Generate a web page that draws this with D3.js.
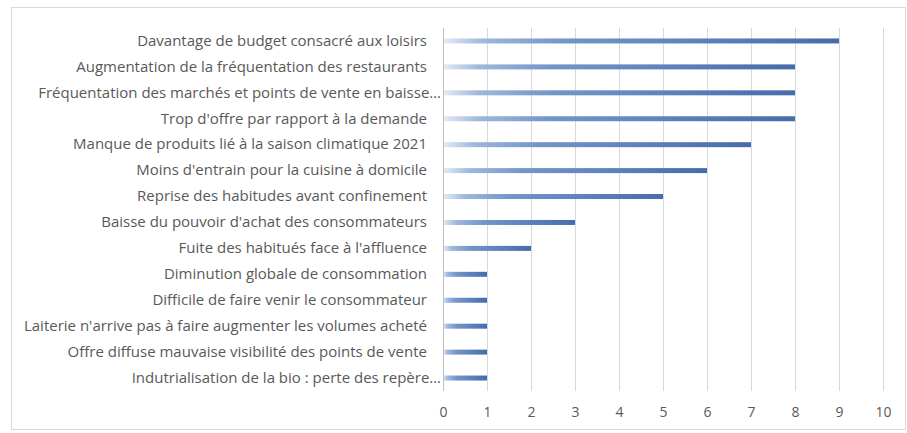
<!DOCTYPE html>
<html>
<head>
<meta charset="utf-8">
<script src="https://cdn.jsdelivr.net/npm/d3@7"></script>
<style>
  html, body { margin: 0; padding: 0; background: #ffffff; }
  svg { display: block; }
</style>
</head>
<body>
<svg id="chart" width="907" height="433"></svg>
<script>
// Reasons given, top to bottom, with the number of mentions for each
const categories = [
  "Davantage de budget consacré aux loisirs",
  "Augmentation de la fréquentation des restaurants",
  "Fréquentation des marchés et points de vente en baisse…",
  "Trop d'offre par rapport à la demande",
  "Manque de produits lié à la saison climatique 2021",
  "Moins d'entrain pour la cuisine à domicile",
  "Reprise des habitudes avant confinement",
  "Baisse du pouvoir d'achat des consommateurs",
  "Fuite des habitués face à l'affluence",
  "Diminution globale de consommation",
  "Difficile de faire venir le consommateur",
  "Laiterie n'arrive pas à faire augmenter les volumes acheté",
  "Offre diffuse mauvaise visibilité des points de vente",
  "Indutrialisation de la bio : perte des repère…"
];
const counts = [9, 8, 8, 8, 7, 6, 5, 3, 2, 1, 1, 1, 1, 1];
const tickValues = [0, 1, 2, 3, 4, 5, 6, 7, 8, 9, 10];

const svg = d3.select("#chart");
const font = "'Open Sans', 'DejaVu Sans', sans-serif";
const textColor = "#595959";

// Chart frame
svg.append("rect")
  .attr("x", 11.5).attr("y", 7.5)
  .attr("width", 894).attr("height", 422)
  .attr("fill", "#ffffff")
  .attr("stroke", "#d9d9d9");

const plot = { left: 443, right: 883, top: 28, bottom: 391 };

const x = d3.scaleLinear().domain([0, 10]).range([plot.left, plot.right]);
const y = d3.scaleBand().domain(categories).range([plot.top, plot.bottom]).paddingInner(0.8).paddingOuter(0.4);

// Bar fill: light at the start, deep blue at the end
const defs = svg.append("defs");
const grad = defs.append("linearGradient").attr("id", "barGrad")
  .attr("x1", "0%").attr("x2", "100%").attr("y1", "0%").attr("y2", "0%");
grad.append("stop").attr("offset", "0%").attr("stop-color", "#e4ecf6");
grad.append("stop").attr("offset", "10%").attr("stop-color", "#9fb8dc");
grad.append("stop").attr("offset", "30%").attr("stop-color", "#7396c9");
grad.append("stop").attr("offset", "100%").attr("stop-color", "#466cab");

// Vertical gridlines
svg.append("g")
  .selectAll("line")
  .data(tickValues.slice(1))
  .join("line")
  .attr("x1", d => x(d) + 0.5).attr("x2", d => x(d) + 0.5)
  .attr("y1", plot.top).attr("y2", plot.bottom)
  .attr("stroke", "#d9d9d9").attr("stroke-width", 1);

// Value axis labels
const xAxis = d3.axisBottom(x).tickValues(tickValues).tickSize(0).tickPadding(0).tickFormat(d3.format("d"));
const gx = svg.append("g").attr("transform", `translate(0,${plot.bottom + 25})`).call(xAxis);
gx.select(".domain").remove();
gx.selectAll("text")
  .attr("fill", textColor)
  .attr("font-family", font)
  .attr("font-size", 14)
  .attr("dy", "0.1em");

// Bars
const barH = 5;
svg.append("g")
  .selectAll("rect")
  .data(categories.map((c, i) => ({ c, v: counts[i] })))
  .join("rect")
  .attr("x", x(0))
  .attr("y", d => y(d.c) + y.bandwidth() / 2 - barH / 2)
  .attr("width", d => x(d.v) - x(0))
  .attr("height", barH)
  .attr("fill", "url(#barGrad)");

// Category axis
const yAxis = d3.axisLeft(y).tickSize(0).tickPadding(16);
const gy = svg.append("g").attr("transform", `translate(${plot.left},0)`).call(yAxis);
gy.select(".domain").attr("stroke", "#bfbfbf").attr("d", `M0.5,${plot.top}V${plot.bottom}`);
gy.selectAll("text")
  .attr("fill", textColor)
  .attr("font-family", font)
  .attr("font-size", 15)
  .attr("x", d => d.endsWith("…") ? -2 : -16);
</script>
</body>
</html>
